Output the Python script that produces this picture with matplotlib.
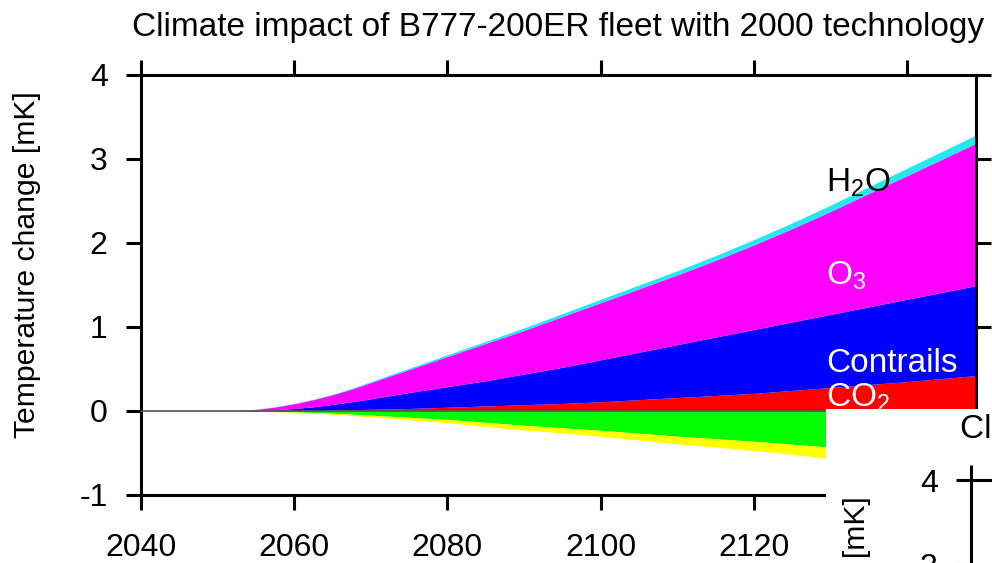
import numpy as np
import matplotlib
matplotlib.use("Agg")
import matplotlib.pyplot as plt
from matplotlib.patches import Rectangle

plt.rcParams['font.family'] = ['Liberation Sans', 'DejaVu Sans']
plt.rcParams['mathtext.fontset'] = 'custom'
plt.rcParams['mathtext.rm'] = 'Liberation Sans'
plt.rcParams['mathtext.it'] = 'Liberation Sans'
plt.rcParams['axes.unicode_minus'] = False

# --- data: temperature change contributions [mK] ---
years = [2040, 2050, 2052, 2055, 2057.5, 2060, 2062.5, 2065, 2067.5, 2070, 2075,
         2080, 2085, 2090, 2095, 2100, 2105, 2110, 2115, 2120, 2125, 2130, 2135,
         2140, 2145, 2150]
co2 = [0, 0, 0, 0.0, 0.001, 0.003, 0.006, 0.01, 0.015, 0.02, 0.03,
       0.045, 0.06, 0.075, 0.09, 0.11, 0.135, 0.16, 0.185, 0.21, 0.245, 0.28, 0.315,
       0.35, 0.39, 0.43]
contrails = [0, 0, 0, 0.006, 0.014, 0.027, 0.044, 0.068, 0.095, 0.125, 0.19,
             0.245, 0.30, 0.365, 0.43, 0.50, 0.565, 0.63, 0.695, 0.76, 0.815, 0.87, 0.925,
             0.98, 1.03, 1.08]
o3 = [0, 0, 0, 0.013, 0.033, 0.057, 0.086, 0.116, 0.152, 0.194, 0.274,
      0.36, 0.445, 0.52, 0.605, 0.68, 0.755, 0.83, 0.914, 1.008, 1.112, 1.226, 1.35,
      1.473, 1.596, 1.72]
h2o = [0, 0, 0, 0.001, 0.002, 0.003, 0.004, 0.006, 0.008, 0.011, 0.016,
       0.02, 0.025, 0.03, 0.035, 0.04, 0.045, 0.05, 0.056, 0.062, 0.068, 0.074, 0.08,
       0.087, 0.094, 0.1]
ch4 = [0, 0, 0, -0.003, -0.006, -0.011, -0.018, -0.027, -0.038, -0.05, -0.075,
       -0.10, -0.135, -0.17, -0.20, -0.23, -0.265, -0.30, -0.33, -0.36, -0.395, -0.43, -0.465,
       -0.50, -0.535, -0.57]
pmo = [0, 0, 0, -0.001, -0.003, -0.005, -0.008, -0.011, -0.015, -0.02, -0.03,
       -0.04, -0.05, -0.055, -0.06, -0.07, -0.08, -0.09, -0.10, -0.11, -0.12, -0.14, -0.15,
       -0.16, -0.17, -0.18]

xticks = [2040, 2060, 2080, 2100, 2120, 2140]
yticks = [-1, 0, 1, 2, 3, 4]
title = "Climate impact of B777-200ER fleet with 2000 technology"
ylabel = "Temperature change [mK]"

W, H = 992, 563
fig = plt.figure(figsize=(W / 100, H / 100), dpi=100)


def style_axes(ax):
    ax.set_xlim(2040, 2149)
    ax.set_ylim(-1, 4)
    ax.set_xticks(xticks)
    ax.set_yticks(yticks)
    ax.tick_params(axis='both', which='both', direction='out', length=11,
                   width=2.2, labelsize=23,
                   top=True, right=True, labeltop=False, labelright=False)
    ax.tick_params(axis='x', pad=16)
    ax.tick_params(axis='y', pad=13)
    for s in ax.spines.values():
        s.set_linewidth(2.2)
    ax.set_ylabel(ylabel, fontsize=21.7)
    ax.yaxis.set_label_coords(-0.12, 0.548)


# main panel
ax = fig.add_axes([141 / W, 1 - 495 / H, 835 / W, 420 / H])
style_axes(ax)
ax.set_title(title, fontsize=24, y=1.0, pad=28)

yr = np.array(years, dtype=float)
c1 = np.array(co2)
c2 = c1 + np.array(contrails)
c3 = c2 + np.array(o3)
c4 = c3 + np.array(h2o)
n1 = np.array(ch4)
n2 = n1 + np.array(pmo)

ax.fill_between(yr, 0, c1, color='#ff0000', lw=0)
ax.fill_between(yr, c1, c2, color='#0000ff', lw=0)
ax.fill_between(yr, c2, c3, color='#ff00ff', lw=0)
ax.fill_between(yr, c3, c4, color='#22e8f0', lw=0)
ax.fill_between(yr, 0, n1, color='#00ff00', lw=0)
ax.fill_between(yr, n1, n2, color='#ffff00', lw=0)
ax.axhline(0, color='#555555', lw=1.2, zorder=3)

lx = 2129.4
ax.text(lx, 2.61, r'H$_2$O', color='black', fontsize=24, va='baseline')
ax.text(lx, 1.50, r'O$_3$', color='white', fontsize=24, va='baseline')
ax.text(lx, 0.46, 'Contrails', color='white', fontsize=24, va='baseline')
ax.text(lx, 0.05, r'CO$_2$', color='white', fontsize=24, va='baseline')

# neighbouring panel peeking in at the lower right
fig.add_artist(Rectangle((826 / W, 0), 1 - 826 / W, (H - 409) / H,
                         transform=fig.transFigure, facecolor='white',
                         edgecolor='none', zorder=5))
ax2 = fig.add_axes([971 / W, 1 - 900 / H, 835 / W, 420 / H])
ax2.set_zorder(6)
style_axes(ax2)
ax2.text(-0.013, 1.1, "Climate impact", transform=ax2.transAxes,
         fontsize=24, ha='left', va='baseline')

fig.savefig("out.png", dpi=100, facecolor='white')
